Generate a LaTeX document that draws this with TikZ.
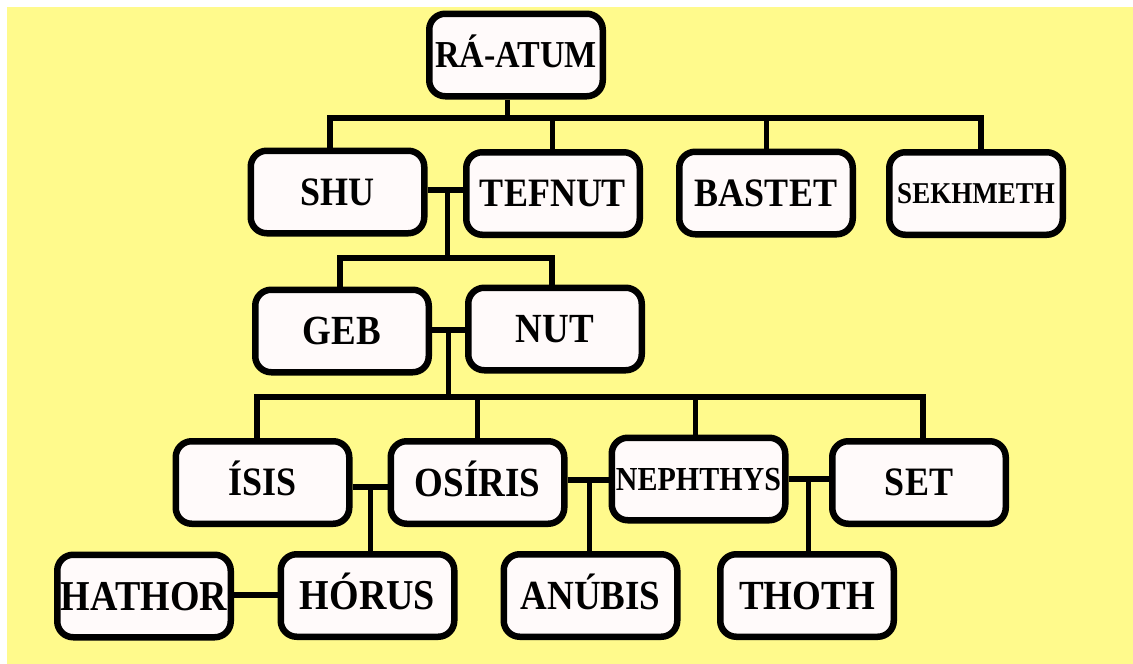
\documentclass[tikz,border=0pt]{standalone}
\usepackage{fontspec}
\usepackage{graphicx}
\setmainfont{Liberation Serif}
\definecolor{bgyellow}{RGB}{255,250,140}
\definecolor{boxfill}{RGB}{255,250,250}
\newcommand\gname[1]{\scalebox{1}[1.12]{#1}}
\begin{document}
\begin{tikzpicture}[x=1pt,y=-1pt,
  god/.style={draw=black, line width=6.5pt, fill=boxfill, rounded corners=16pt,
    inner sep=0pt, minimum width=173.5pt, minimum height=82.5pt,
    font=\bfseries\fontsize{#1}{#1}\selectfont, text height={0.742*#1pt}, text depth=0pt},
  god/.default=36,
  conn/.style={line width=6.5pt},
  stem/.style={line width=5pt}]
\useasboundingbox (0,0) rectangle (1133,664);
\fill[bgyellow] (7,7) rectangle (1133,664);

% nodes
\node[god=34] (ra)   at (516,55)    {\gname{RÁ-ATUM}};
\node[god]    (shu)  at (337.5,192) {\gname{SHU}};
\node[god]    (tef)  at (553,193.5) {\gname{TEFNUT}};
\node[god]    (bas)  at (766,193)   {\gname{BASTET}};
\node[god=27] (sek)  at (976,193.5) {\gname{SEKHMETH}};
\node[god=37] (geb)  at (342,331)   {\gname{GEB}};
\node[god=37] (nut)  at (555,329)   {\gname{NUT}};
\node[god]    (isis) at (262.5,482.5) {\gname{ÍSIS}};
\node[god=37] (osi)  at (477.5,482.5) {\gname{OSÍRIS}};
\node[god=30] (neph) at (698.5,479) {\gname{NEPHTHYS}};
\node[god]    (set)  at (919,482.5) {\gname{SET}};
\node[god=38] (hat)  at (144,596)   {\gname{HATHOR}};
\node[god=38] (hor)  at (367.5,595.5) {\gname{HÓRUS}};
\node[god=37] (anu)  at (590.5,595.5) {\gname{ANÚBIS}};
\node[god=37] (tho)  at (807,595.5) {\gname{THOTH}};

% junction coordinates
\coordinate (j1)  at (507,118);
\coordinate (b1l) at (330,118);
\coordinate (b1r) at (981,118);
\coordinate (b1t) at (552,118);
\coordinate (c1)  at (447,190);
\coordinate (b2m) at (447,258);
\coordinate (b2l) at (340,258);
\coordinate (b2r) at (552,258);
\coordinate (c2)  at (448,330);
\coordinate (b3m) at (448,397);
\coordinate (b3l) at (257,397);
\coordinate (b3r) at (923,397);
\coordinate (b3a) at (477,397);
\coordinate (b3b) at (695,397);
\coordinate (c3)  at (370,487);
\coordinate (c4)  at (589,480);
\coordinate (c5)  at (808,479);
\coordinate (c6)  at (0,595);

% level 1
\draw[stem] (ra.south -| j1) -- (j1);
\draw[conn] (shu.north -| b1l) -- (b1l) -- (b1r) -- (sek.north -| b1r);
\draw[stem] (tef.north -| b1t) -- (b1t);
\draw[stem] (bas.north) -- (bas.north |- b1t);
% shu - tefnut
\draw[conn] (shu.east |- c1) -- (tef.west |- c1);
\draw[stem] (c1) -- (b2m);
% level 2
\draw[conn] (geb.north -| b2l) -- (b2l) -- (b2r) -- (nut.north -| b2r);
\draw[conn] (geb.east |- c2) -- (nut.west |- c2);
\draw[stem] (c2) -- (b3m);
% level 3
\draw[conn] (isis.north -| b3l) -- (b3l) -- (b3r) -- (set.north -| b3r);
\draw[stem] (osi.north -| b3a) -- (b3a);
\draw[stem] (neph.north -| b3b) -- (b3b);
\draw[conn] (isis.east |- c3) -- (osi.west |- c3);
\draw[stem] (c3) -- (hor.north -| c3);
\draw[conn] (osi.east |- c4) -- (neph.west |- c4);
\draw[stem] (c4) -- (anu.north -| c4);
\draw[conn] (neph.east |- c5) -- (set.west |- c5);
\draw[stem] (c5) -- (tho.north -| c5);
% level 4
\draw[conn] (hat.east |- c6) -- (hor.west |- c6);
\end{tikzpicture}
\end{document}
